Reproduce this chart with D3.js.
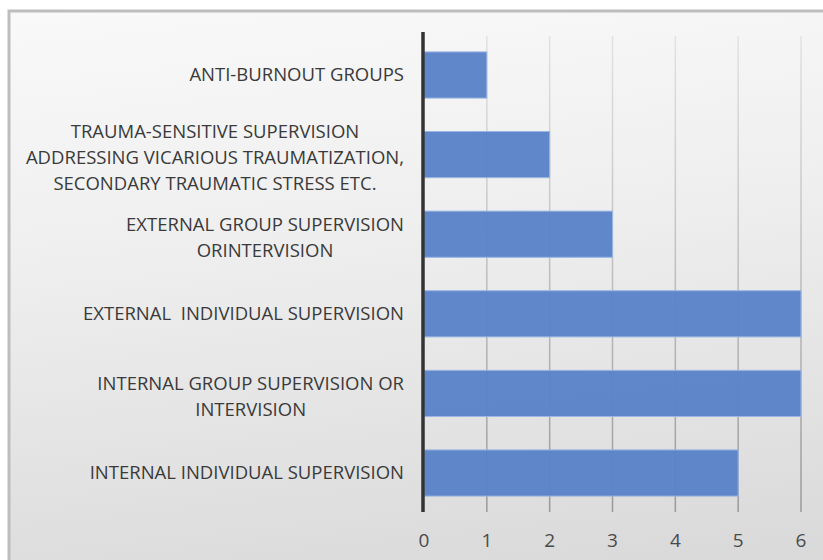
<!DOCTYPE html>
<html>
<head>
    <title>Supervision Types</title>
    <script src="https://d3js.org/d3.v7.min.js"></script>
    <style>
        body { margin: 0; background: #fff; overflow: hidden; }
        svg { display: block; }
        svg text { font-family: "Open Sans", sans-serif; }
    </style>
</head>
<body>
    <div id="chart"></div>
    <script>
        // data, top to bottom
        const categories = [
            ["ANTI-BURNOUT GROUPS"],
            ["TRAUMA-SENSITIVE SUPERVISION", "ADDRESSING VICARIOUS TRAUMATIZATION,", "SECONDARY TRAUMATIC STRESS ETC."],
            ["EXTERNAL GROUP SUPERVISION", "ORINTERVISION"],
            ["EXTERNAL  INDIVIDUAL SUPERVISION"],
            ["INTERNAL GROUP SUPERVISION OR", "INTERVISION"],
            ["INTERNAL INDIVIDUAL SUPERVISION"]
        ];
        const values = [1, 2, 3, 6, 6, 5];
        const xTicks = [0, 1, 2, 3, 4, 5, 6];

        const W = 823, H = 560;
        const plot = {left: 424, right: 801, top: 36, bottom: 512};

        const svg = d3.select("#chart").append("svg")
            .attr("width", W)
            .attr("height", H);

        const defs = svg.append("defs");
        const bg = defs.append("linearGradient").attr("id", "bg")
            .attr("x1", 0).attr("y1", 0).attr("x2", 0.15).attr("y2", 1);
        bg.append("stop").attr("offset", "0%").attr("stop-color", "#f9f9f9");
        bg.append("stop").attr("offset", "40%").attr("stop-color", "#efefef");
        bg.append("stop").attr("offset", "100%").attr("stop-color", "#dadada");

        const gridGrad = defs.append("linearGradient").attr("id", "gridGrad")
            .attr("gradientUnits", "userSpaceOnUse")
            .attr("x1", 0).attr("y1", plot.top).attr("x2", 0).attr("y2", plot.bottom);
        gridGrad.append("stop").attr("offset", "0%").attr("stop-color", "#e2e2e2");
        gridGrad.append("stop").attr("offset", "100%").attr("stop-color", "#999");

        // frame (runs off the right and bottom edges)
        svg.append("rect")
            .attr("x", 9).attr("y", 11)
            .attr("width", W + 40).attr("height", H + 40)
            .attr("fill", "url(#bg)")
            .attr("stroke", "#bdbdbd")
            .attr("stroke-width", 3);

        const x = d3.scaleLinear().domain([0, 6]).range([plot.left, plot.right]);
        const y = d3.scaleBand()
            .domain(d3.range(categories.length))
            .range([plot.top, plot.bottom])
            .paddingInner(0.42)
            .paddingOuter(0.2);

        // gridlines
        svg.append("g")
            .selectAll("line")
            .data(xTicks.slice(1))
            .join("line")
            .attr("x1", d => x(d)).attr("x2", d => x(d))
            .attr("y1", plot.top).attr("y2", plot.bottom)
            .attr("stroke", "url(#gridGrad)")
            .attr("stroke-width", 1.5);

        // bars
        svg.append("g")
            .selectAll("rect")
            .data(values)
            .join("rect")
            .attr("x", x(0))
            .attr("y", (d, i) => y(i))
            .attr("width", d => x(d) - x(0))
            .attr("height", y.bandwidth())
            .attr("fill", "#5a83c8")
            .attr("fill-opacity", 0.97)
            .attr("stroke", "#9bb6e2")
            .attr("stroke-width", 1);

        // vertical axis line
        svg.append("line")
            .attr("x1", x(0) - 1).attr("x2", x(0) - 1)
            .attr("y1", plot.top - 4).attr("y2", plot.bottom)
            .attr("stroke", "#333")
            .attr("stroke-width", 3.5);

        // x tick labels
        svg.append("g")
            .selectAll("text")
            .data(xTicks)
            .join("text")
            .attr("x", d => x(d))
            .attr("y", 547)
            .attr("text-anchor", "middle")
            .attr("fill", "#4a4a4a")
            .style("font-size", "19px")
            .text(d => d);

        // category labels: centered block, right edge at 404
        const labelRight = 404, lineH = 26;
        const labels = svg.append("g");
        categories.forEach((lines, i) => {
            const g = labels.append("g");
            const cy = y(i) + y.bandwidth() / 2 + (lines.length > 1 ? 3 : 0);
            const texts = lines.map((ln, j) => g.append("text")
                .attr("y", cy + (j - (lines.length - 1) / 2) * lineH)
                .attr("dy", "0.35em")
                .attr("text-anchor", "middle")
                .attr("fill", "#3a3a3a")
                .style("font-size", "18.5px")
                .style("white-space", "pre")
                .text(ln));
            const maxW = d3.max(texts, t => t.node().getComputedTextLength());
            texts.forEach(t => t.attr("x", labelRight - maxW / 2));
        });
    </script>
</body>
</html>
